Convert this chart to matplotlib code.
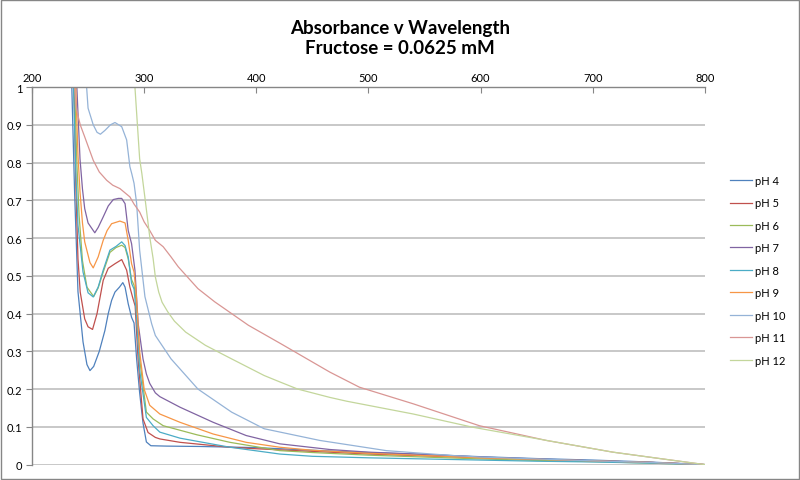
import numpy as np
import matplotlib
matplotlib.use('Agg')
from matplotlib import pyplot as plt
from matplotlib.patches import Rectangle

plt.rcParams['font.family'] = ['Lato', 'DejaVu Sans']

# absorbance readings, one wavelength list per series (nm)
w4 = [233, 235.5, 238, 241, 245.5, 249, 251.7, 255, 260, 265, 268, 271, 274, 278, 281, 283, 285.8, 288.8, 291, 293.3,
      296, 299, 302, 306, 320, 350, 400, 450, 500, 550, 600, 650, 700, 750, 800]
a4 = [1.5, 1.0, 0.72, 0.458, 0.325, 0.265, 0.249, 0.26, 0.3, 0.355, 0.4, 0.435, 0.457, 0.47, 0.482, 0.47, 0.426, 0.39, 0.375, 0.28,
      0.19, 0.11, 0.06, 0.05, 0.049, 0.048, 0.045, 0.038, 0.032, 0.027, 0.021, 0.016, 0.012, 0.007, 0.0]

w5 = [234, 237.5, 239, 241, 243, 247, 250, 254, 258, 263.5, 268, 274, 280, 284.4, 287.3, 290, 292, 294.6, 299, 303.5,
      310, 314, 332, 376.5, 400, 450, 500, 550, 600, 650, 700, 750, 800]
a5 = [1.5, 1.0, 0.75, 0.545, 0.457, 0.386, 0.365, 0.358, 0.4, 0.488, 0.52, 0.532, 0.543, 0.515, 0.47, 0.44, 0.42, 0.28, 0.121, 0.085,
      0.072, 0.068, 0.059, 0.046, 0.042, 0.035, 0.028, 0.023, 0.018, 0.014, 0.01, 0.006, 0.0]

w6 = [235, 238, 240, 242, 245, 249, 255, 259, 263.5, 269.5, 275, 280, 283, 285.8, 288.8, 291, 293, 296, 302, 308,
      317, 347, 376.5, 421, 450, 500, 550, 600, 650, 700, 750, 800]
a6 = [1.5, 1.0, 0.8, 0.66, 0.54, 0.47, 0.445, 0.468, 0.51, 0.562, 0.575, 0.581, 0.575, 0.545, 0.49, 0.475, 0.43, 0.28, 0.139, 0.121,
      0.103, 0.079, 0.059, 0.037, 0.032, 0.025, 0.02, 0.015, 0.011, 0.008, 0.004, 0.0]

w7 = [237, 240, 242.8, 245, 247, 250, 256, 259, 263.5, 268, 272.5, 277, 280, 283, 285.8, 288.8, 291.8, 294.7, 299, 302,
      305, 310, 314, 332, 361.6, 391, 421, 465.6, 500, 550, 600, 650, 700, 750, 800]
a7 = [1.5, 1.0, 0.81, 0.73, 0.678, 0.64, 0.614, 0.628, 0.656, 0.685, 0.702, 0.705, 0.705, 0.691, 0.62, 0.585, 0.515, 0.373, 0.28, 0.24,
      0.215, 0.19, 0.18, 0.152, 0.112, 0.077, 0.055, 0.04, 0.033, 0.027, 0.02, 0.015, 0.01, 0.006, 0.0]

w8 = [234.5, 237, 239, 241, 245.5, 250, 254.6, 259, 263.5, 269.5, 275, 280, 283, 285.8, 288.8, 291, 293, 296, 302, 308,
      314, 332, 376.5, 421, 450, 500, 550, 600, 650, 700, 750, 800]
a8 = [1.5, 1.0, 0.78, 0.634, 0.51, 0.455, 0.444, 0.47, 0.515, 0.568, 0.578, 0.59, 0.58, 0.55, 0.48, 0.465, 0.4, 0.25, 0.125, 0.103,
      0.086, 0.07, 0.046, 0.028, 0.022, 0.018, 0.015, 0.012, 0.009, 0.007, 0.004, 0.0]

w9 = [236, 239, 241, 242.8, 245, 247, 251.7, 254.6, 259, 263.5, 267, 271, 278.4, 283, 285.8, 288.8, 291, 293, 296, 300,
      305, 314, 332, 361.6, 391, 421, 450, 500, 550, 600, 650, 700, 750, 800]
a9 = [1.5, 1.0, 0.82, 0.723, 0.64, 0.59, 0.535, 0.521, 0.55, 0.594, 0.62, 0.638, 0.645, 0.64, 0.594, 0.532, 0.51, 0.45, 0.3, 0.2,
      0.157, 0.134, 0.112, 0.081, 0.059, 0.046, 0.038, 0.03, 0.024, 0.018, 0.014, 0.01, 0.006, 0.0]

w10 = [246, 248.7, 250, 254.6, 258, 261, 265, 270, 274, 280, 284.4, 287.3, 289, 291, 293.3, 296, 300.7, 306.7, 310, 324,
       348, 378, 407, 456.7, 516, 575, 600, 650, 700, 750, 800]
a10 = [1.3, 1.0, 0.944, 0.9, 0.88, 0.875, 0.885, 0.9, 0.906, 0.895, 0.86, 0.789, 0.77, 0.745, 0.692, 0.568, 0.445, 0.373, 0.342, 0.28,
       0.2, 0.139, 0.095, 0.064, 0.037, 0.024, 0.02, 0.015, 0.01, 0.006, 0.0]

w11 = [235, 238, 239.8, 243, 247, 254.6, 260, 266.6, 272, 278.4, 287.3, 291, 296, 300, 305, 310, 317, 324, 330.4, 348,
       363, 393, 422, 465.6, 492, 540, 599, 658.7, 718, 760, 800]
a11 = [1.3, 1.0, 0.939, 0.9, 0.868, 0.806, 0.775, 0.753, 0.74, 0.731, 0.709, 0.69, 0.669, 0.643, 0.62, 0.594, 0.577, 0.55, 0.524, 0.466,
       0.431, 0.369, 0.32, 0.245, 0.205, 0.161, 0.103, 0.064, 0.033, 0.016, 0.0]

w12 = [290, 291.8, 294, 296, 298, 301, 305, 308, 310, 313, 316, 321, 327, 337, 354.6, 378, 407, 421, 437, 465.6,
       480.5, 540, 593, 659, 718, 760, 800]
a12 = [1.3, 1.0, 0.9, 0.81, 0.77, 0.7, 0.603, 0.546, 0.497, 0.457, 0.43, 0.405, 0.38, 0.351, 0.316, 0.28, 0.236, 0.219, 0.2, 0.178,
       0.168, 0.134, 0.099, 0.064, 0.033, 0.016, 0.0]

labels = ['pH 4', 'pH 5', 'pH 6', 'pH 7', 'pH 8', 'pH 9', 'pH 10', 'pH 11', 'pH 12']
colors = ['#4F81BD', '#C0504D', '#9BBB59', '#8064A2', '#4BACC6', '#F79646', '#95B3D7', '#D99694', '#C3D69B']
waves = [w4, w5, w6, w7, w8, w9, w10, w11, w12]
absorb = [a4, a5, a6, a7, a8, a9, a10, a11, a12]

fig = plt.figure(figsize=(8, 4.81), dpi=100)
ax = fig.add_axes([0.04, 0.032, 0.841, 0.785])

for w, a, c, lab in zip(waves, absorb, colors, labels):
    ax.plot(w, a, color=c, lw=0.9, label=lab)

ax.set_xlim(200, 800)
ax.set_ylim(0, 1)
ax.xaxis.tick_top()
ax.set_xticks(range(200, 801, 100))
yt = np.round(np.arange(0, 1.01, 0.1), 1)
ax.set_yticks(yt)
ax.set_yticklabels(['0'] + ['%g' % v for v in yt[1:]])
ax.tick_params(axis='x', direction='in', length=4, color='#868686', labelsize=8, pad=3)
ax.tick_params(axis='y', direction='out', length=4, color='#868686', labelsize=8, pad=3)
ax.grid(axis='y', color='#BFBFBF', lw=1.2)
ax.set_axisbelow(True)
for s in ['right', 'bottom']:
    ax.spines[s].set_visible(False)
for s in ['top', 'left']:
    ax.spines[s].set_color('#868686')
    ax.spines[s].set_linewidth(1)

fig.text(0.5, 0.959, 'Absorbance v Wavelength\nFructose = 0.0625 mM', ha='center', va='top',
         fontsize=13.5, fontweight='bold', linespacing=1.25)

ax.legend(loc='center left', bbox_to_anchor=(0.905, 0.436), bbox_transform=fig.transFigure,
          frameon=False, fontsize=8, handlelength=2.0, handletextpad=0.3, labelspacing=1.03, borderpad=0)

fig.patches.append(Rectangle((0.001, 0.002), 0.998, 0.996, transform=fig.transFigure, fill=False,
                             edgecolor='#868686', lw=1))

fig.savefig('out.png', dpi=100)
